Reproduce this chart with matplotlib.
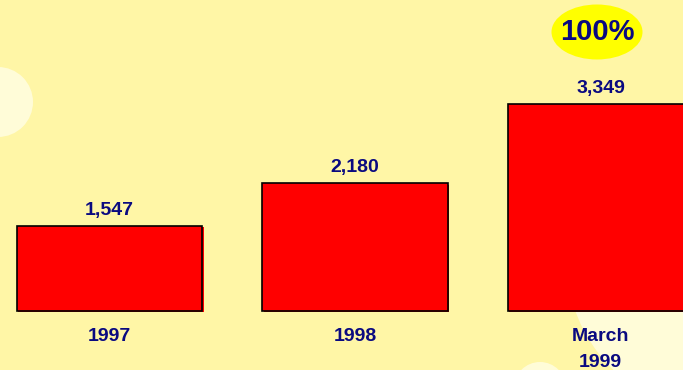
import matplotlib

matplotlib.use("Agg")
import matplotlib.pyplot as plt
import matplotlib.transforms as mtransforms
from matplotlib.patches import Circle, Ellipse

# Chart data
categories = ["1997", "1998", "March\n1999"]
values = [1547, 2180, 3349]
value_labels = ["1,547", "2,180", "3,349"]
badge_text = "100%"

# Value axis starts above zero in the original chart
Y_BASE = 291.5

_BG = "#FFF6A6"
_BLOB = "#FFFCD8"
_BAR = "#FF0000"
_TEXT = "#0A0A80"
_FONT = ["Liberation Sans", "DejaVu Sans"]

fig = plt.figure(figsize=(6.83, 3.70), dpi=100)
fig.patch.set_facecolor(_BG)

# Background decoration, laid out in pixel coordinates
bg = fig.add_axes([0, 0, 1, 1])
bg.set_xlim(0, 683)
bg.set_ylim(370, 0)
bg.set_axis_off()
bg.add_patch(Circle((-2, 102), 35, color=_BLOB, lw=0))
bg.add_patch(Circle((722, 258), 156, color=_BLOB, lw=0))
bg.add_patch(Circle((540, 388), 26, color=_BLOB, lw=0))

# Main chart
ax = fig.add_axes([0, 0, 1, 1])
ax.patch.set_alpha(0)
ax.set_xlim(-0.446, 2.336)
ax.set_ylim(-580, 4885)
ax.set_axis_off()

x = range(len(values))
heights = [v - Y_BASE for v in values]
shadow = mtransforms.offset_copy(ax.transData, fig=fig, x=1.5, y=-1.5, units="dots")
ax.bar(x, heights, bottom=Y_BASE, width=0.754, color=_BAR, lw=0, transform=shadow, zorder=2)
ax.bar(x, heights, bottom=Y_BASE, width=0.754, color=_BAR, edgecolor="black",
       linewidth=1.2, zorder=3)

for i, (v, lbl) in enumerate(zip(values, value_labels)):
    ax.annotate(lbl, xy=(i, v), xytext=(0, 11.5), textcoords="offset points",
                ha="center", va="center", fontsize=14, fontweight="bold",
                color=_TEXT, family=_FONT, zorder=4)

# Category labels, one line at a time so every first line sits on the same baseline
for i, cat in enumerate(categories):
    for k, line in enumerate(cat.split("\n")):
        ax.annotate(line, xy=(i, Y_BASE), xytext=(0, -21.5 - 18.7 * k),
                    textcoords="offset points", ha="center", va="baseline",
                    fontsize=14, fontweight="bold", color=_TEXT, family=_FONT,
                    zorder=4)

# Growth badge above the last bar
bg.add_patch(Ellipse((597, 32), 91, 55, color="#FFFF00", lw=0))
bg.text(597, 32, badge_text, ha="center", va="center", fontsize=21,
        fontweight="bold", color=_TEXT, family=_FONT)

fig.savefig("out.png", dpi=100, facecolor=_BG)
